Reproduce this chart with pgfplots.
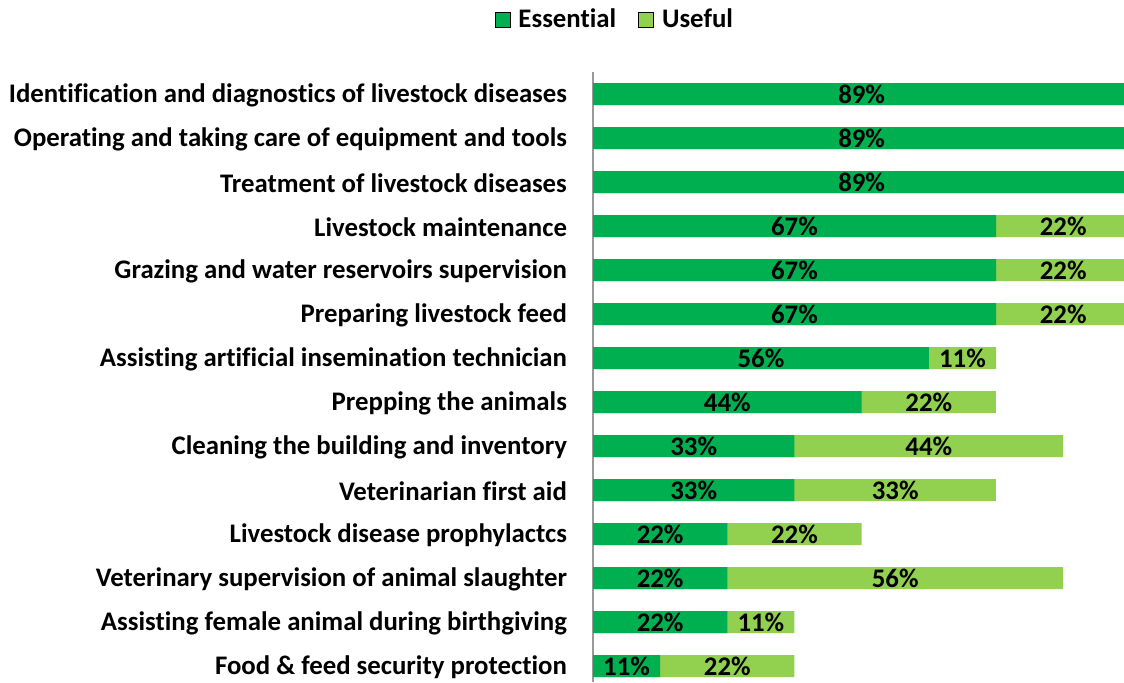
\documentclass[border=0pt]{standalone}
\usepackage{pgfplots}
\pgfplotsset{compat=1.18}
\usepackage{pgfplotstable}
\usepackage{fontspec}
\setmainfont[Ligatures=NoCommon]{Carlito}

\definecolor{essential}{RGB}{0,176,80}
\definecolor{useful}{RGB}{146,208,80}

% shares in percent (ninths of the group), rows top to bottom
\pgfplotstableread{
row E     U
0   88.89 0
1   88.89 0
2   88.89 0
3   66.67 22.22
4   66.67 22.22
5   66.67 22.22
6   55.56 11.11
7   44.44 22.22
8   33.33 44.44
9   33.33 33.33
10  22.22 22.22
11  22.22 55.56
12  22.22 11.11
13  11.11 22.22
}\skills

\begin{document}
\begin{tikzpicture}
\begin{axis}[
    at={(296.5pt,-36pt)}, anchor=north west,
    scale only axis,
    width=265.5pt, height=305pt,
    xmin=0, xmax=87.84,
    ymin=-0.5, ymax=13.364,
    y dir=reverse,
    bar width=0.5,
    axis x line=none,
    axis y line*=left,
    y axis line style={draw=gray!80, line width=0.8pt},
    ytick={0,...,13},
    major tick length=0pt,
    yticklabels={
        Identification and diagnostics of livestock diseases,
        Operating and taking care of equipment and tools,
        Treatment of livestock diseases,
        Livestock maintenance,
        Grazing and water reservoirs supervision,
        Preparing livestock feed,
        Assisting artificial insemination technician,
        Prepping the animals,
        Cleaning the building and inventory,
        Veterinarian first aid,
        Livestock disease prophylactcs,
        Veterinary supervision of animal slaughter,
        Assisting female animal during birthgiving,
        Food \& feed security protection},
    yticklabel style={font=\fontsize{13.4}{15}\selectfont\bfseries, xshift=-9.5pt, yshift=-0.5pt},
    legend style={at={(0.043,1.086)}, anchor=center, draw=none,
        font=\fontsize{13.4}{15}\selectfont\bfseries,
        legend columns=2,
        /tikz/every even column/.append style={column sep=9pt}},
    legend image code/.code={\fill[#1] (0pt,-3.75pt) rectangle (7.5pt,3.75pt);
        \path (9.5pt,0pt);},
    /pgf/number format/assume math mode=true,
    every node near coord/.append style={anchor=center,
        font=\fontsize{13.4}{15}\selectfont\bfseries, text=black},
]
\addlegendimage{fill=essential}
\addlegendentry{Essential}
\addlegendimage{fill=useful}
\addlegendentry{Useful}

% light bar spans Essential + Useful, dark bar drawn over it
\addplot[xbar, bar shift=0pt, fill=useful, draw=none, forget plot]
    table[x expr=\thisrow{E}+\thisrow{U}, y=row] {\skills};
\addplot[xbar, bar shift=0pt, fill=essential, draw=none, forget plot]
    table[x=E, y=row] {\skills};

% value labels centred in each segment
\addplot[draw=none, mark=none, forget plot, point meta=explicit,
    nodes near coords={\pgfmathprintnumber[fixed,precision=0,assume math mode=true]{\pgfplotspointmeta}\%}]
    table[x expr=\thisrow{E}/2, y=row, meta=E] {\skills};
\addplot[draw=none, mark=none, forget plot, point meta=explicit,
    skip coords between index={0}{3},
    nodes near coords={\pgfmathprintnumber[fixed,precision=0,assume math mode=true]{\pgfplotspointmeta}\%}]
    table[x expr=\thisrow{E}+\thisrow{U}/2, y=row, meta=U] {\skills};
\end{axis}
\pgfresetboundingbox
\path (0pt,0pt) rectangle (562pt,-341pt);
\end{tikzpicture}
\end{document}
